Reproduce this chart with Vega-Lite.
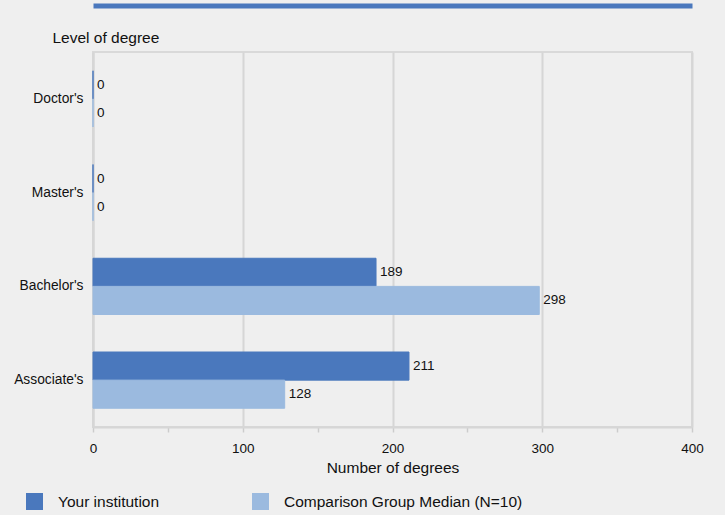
{
  "$schema": "https://vega.github.io/schema/vega-lite/v6.json",
  "background": "#efefef",
  "padding": {"left": 0, "top": 5, "right": 23, "bottom": 5},
  "width": 599,
  "height": 375,
  "config": {
    "font": "Liberation Sans",
    "view": {"stroke": "#d9d9d9", "strokeWidth": 2}
  },
  "data": {
    "values": [
      {"level": "Doctor's", "series": "Your institution", "value": 0},
      {"level": "Doctor's", "series": "Comparison Group Median (N=10)", "value": 0},
      {"level": "Master's", "series": "Your institution", "value": 0},
      {"level": "Master's", "series": "Comparison Group Median (N=10)", "value": 0},
      {"level": "Bachelor's", "series": "Your institution", "value": 189},
      {"level": "Bachelor's", "series": "Comparison Group Median (N=10)", "value": 298},
      {"level": "Associate's", "series": "Your institution", "value": 211},
      {"level": "Associate's", "series": "Comparison Group Median (N=10)", "value": 128}
    ]
  },
  "encoding": {
    "y": {
      "field": "level",
      "type": "nominal",
      "sort": ["Doctor's", "Master's", "Bachelor's", "Associate's"],
      "scale": {"paddingInner": 0.4, "paddingOuter": 0.2},
      "axis": {
        "title": "Level of degree",
        "titleAngle": 0,
        "titleAlign": "left",
        "titleBaseline": "middle",
        "titleX": -41,
        "titleY": -15,
        "titleFontSize": 15.5,
        "titleFontWeight": "normal",
        "titleColor": "#111",
        "ticks": false,
        "labelPadding": 10,
        "labelFontSize": 13.8,
        "labelColor": "#111",
        "domainColor": "#d6d6d6",
        "domainWidth": 2,
        "minExtent": 93
      }
    },
    "yOffset": {
      "field": "series",
      "sort": ["Your institution", "Comparison Group Median (N=10)"]
    }
  },
  "layer": [
    {
      "mark": {"type": "bar", "strokeWidth": 1},
      "encoding": {
        "x": {
          "field": "value",
          "type": "quantitative",
          "scale": {"domain": [0, 400], "nice": false},
          "axis": {
            "title": "Number of degrees",
            "orient": "bottom",
            "values": [0, 50, 100, 150, 200, 250, 300, 350, 400],
            "labelExpr": "datum.value % 100 === 0 ? datum.label : ''",
            "labelFlush": false,
            "gridColor": "#d6d6d6",
            "gridWidth": 2,
            "gridOpacity": {"condition": {"test": "datum.value % 100 !== 0", "value": 0}, "value": 1},
            "tickColor": "#cccccc",
            "tickWidth": 1.5,
            "tickSize": 5,
            "labelPadding": 9,
            "labelFontSize": 13.5,
            "labelColor": "#111",
            "titleFontSize": 15.5,
            "titleFontWeight": "normal",
            "titleColor": "#111",
            "titlePadding": 6,
            "domainColor": "#d6d6d6",
            "domainWidth": 2
          }
        },
        "color": {
          "field": "series",
          "type": "nominal",
          "sort": ["Your institution", "Comparison Group Median (N=10)"],
          "scale": {"domain": ["Your institution", "Comparison Group Median (N=10)"], "range": ["#4a78bd", "#9bbadf"]},
          "legend": {
            "title": null,
            "orient": "none",
            "direction": "horizontal",
            "legendX": -67,
            "legendY": 441,
            "symbolType": "square",
            "symbolSize": 289,
            "symbolStrokeWidth": 0,
            "symbolOpacity": 1,
            "labelOffset": 15,
            "columnPadding": 92,
            "labelFontSize": 15.5,
            "labelColor": "#111",
            "labelLimit": 400
          }
        },
        "stroke": {
          "field": "series",
          "type": "nominal",
          "scale": {"domain": ["Your institution", "Comparison Group Median (N=10)"], "range": ["#4a78bd", "#9bbadf"]},
          "legend": null
        }
      }
    },
    {
      "mark": {"type": "text", "align": "left", "baseline": "middle", "dx": 4, "fontSize": 13.5, "color": "#111"},
      "encoding": {
        "x": {
          "field": "value",
          "type": "quantitative",
          "axis": {
            "orient": "top",
            "title": null,
            "labels": false,
            "ticks": false,
            "grid": false,
            "domainColor": "#4a78bd",
            "domainWidth": 5,
            "offset": 46.5
          }
        },
        "text": {"field": "value", "type": "quantitative"}
      }
    }
  ],
  "resolve": {"axis": {"x": "independent"}}
}
